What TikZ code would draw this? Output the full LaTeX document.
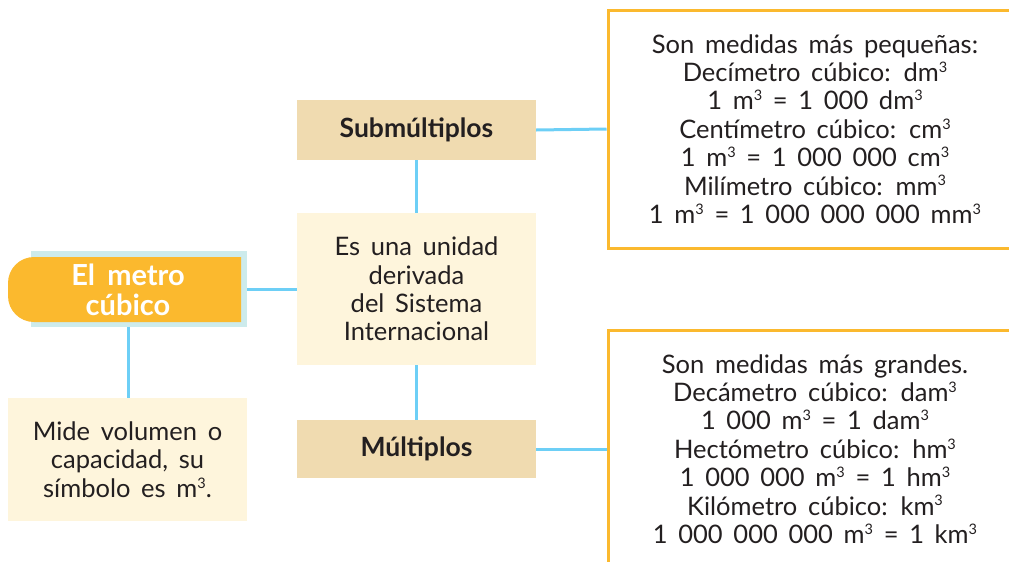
\documentclass[tikz,border=0pt]{standalone}
\usepackage{fontspec}
\setmainfont{Lato}
\definecolor{naranja}{HTML}{FBB92E}
\definecolor{marco}{HTML}{CDEBEC}
\definecolor{celeste}{HTML}{6DCFF6}
\definecolor{beige}{HTML}{F0DBB0}
\definecolor{crema}{HTML}{FEF5DC}
\definecolor{tinta}{HTML}{231F20}
\newcommand{\cub}{\raisebox{0.36em}{\fontsize{14.5}{14.5}\selectfont 3}}
\newcommand{\ancho}{\spaceskip=0.42em plus 0.1em\relax}
\begin{document}
\begin{tikzpicture}[x=1pt,y=-1pt]
        \tikzstyle{caja}=[rectangle, minimum width=239pt, align=center, inner sep=0pt, text=tinta,
                font=\fontsize{25.5}{28.4}\selectfont\ancho]
        \tikzstyle{titulo}=[caja, fill=beige, font=\fontsize{26.5}{30}\selectfont\bfseries\ancho]
        \tikzstyle{info}=[caja, draw=naranja, line width=3pt, fill=white, minimum width=414pt, minimum height=238pt]
        \tikzstyle{enlace}=[celeste, line width=3pt]

        \clip (0,0) rectangle (1009,562);

        % concepto principal
        \node[rectangle, fill=marco, minimum width=216pt, minimum height=76pt, inner sep=0pt] (metro) at (139,289) {};
        \fill[naranja] (241,257) [rounded corners=26pt] -- (8,257) -- (8,322) [sharp corners] -- (241,322) -- cycle;
        \node[align=center, text=white, font=\fontsize{29}{30}\selectfont\bfseries\ancho] (titmetro) at (128,289.5) {El metro\\cúbico};

        \node[caja, fill=crema, minimum width=239pt, minimum height=123pt] (mide) at (127.5,459.5)
                {Mide volumen o\\capacidad, su\\símbolo es m\cub.};

        \node[titulo, minimum height=60pt] (sub) at (416.5,130) {Submúltiplos};
        \node[caja, fill=crema, minimum height=152pt] (centro) at (416.5,289)
                {Es una unidad\\derivada\\del Sistema\\Internacional};
        \node[titulo, minimum height=58pt] (mult) at (416.5,449) {Múltiplos};

        \node[info] (menores) at (815,129)
                {Son medidas más pequeñas:\\Decímetro cúbico: dm\cub\\1 m\cub{} = 1 000 dm\cub\\
                Centímetro cúbico: cm\cub\\1 m\cub{} = 1 000 000 cm\cub\\
                Milímetro cúbico: mm\cub\\1 m\cub{} = 1 000 000 000 mm\cub};
        \node[info] (mayores) at (815,449)
                {Son medidas más grandes.\\Decámetro cúbico: dam\cub\\1 000 m\cub{} = 1 dam\cub\\
                Hectómetro cúbico: hm\cub\\1 000 000 m\cub{} = 1 hm\cub\\
                Kilómetro cúbico: km\cub\\1 000 000 000 m\cub{} = 1 km\cub};

        % conectores
        \draw[enlace] (metro.east) -- (centro.west);
        \draw[enlace] (metro.south -| titmetro) -- (mide.north -| titmetro);
        \draw[enlace] (sub.south) -- (centro.north);
        \draw[enlace] (centro.south) -- (mult.north);
        \draw[enlace] (sub.east) -- (menores.west);
        \draw[enlace] (mult.east) -- (mayores.west);
\end{tikzpicture}
\end{document}
